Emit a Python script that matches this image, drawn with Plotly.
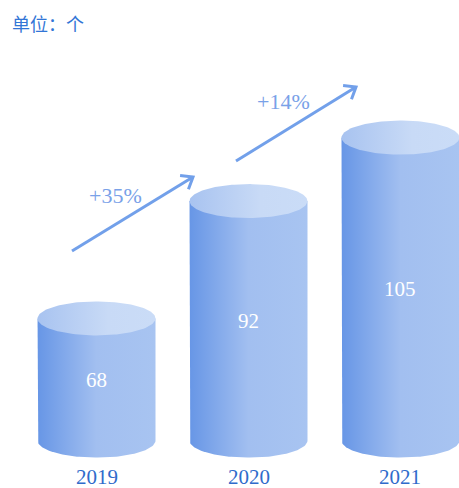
import numpy as np
import plotly.graph_objects as go

# ---- data ----
categories = ["2019", "2020", "2021"]
values = [68, 92, 105]
growth_labels = ["+35%", "+14%"]
base_value = 43          # where the cylinders stand (axis does not start at 0)
unit_label = "单位：个"

# ---- layout constants ----
W, H = 459, 488
X_RANGE = [-0.635, 2.385]
Y_RANGE = [33.3, 133.15]
HALF_W = 0.388
RY_PX = 17
px_per_y = H / (Y_RANGE[1] - Y_RANGE[0])
RY = RY_PX / px_per_y

SERIF = "Liberation Serif, Times New Roman, serif"
body_scale = [[0, "#6796e6"], [0.5, "#a2bff0"], [1, "#a8c4f1"]]
top_scale = [[0, "#a8c3f0"], [0.6, "#c8daf6"], [1, "#cadcf7"]]
arrow_color = "#72a0ea"
growth_color = "#79a1e8"
year_color = "#2f6bcb"


def to_x(px):
    return X_RANGE[0] + px / W * (X_RANGE[1] - X_RANGE[0])


def to_y(py):
    return Y_RANGE[1] - py / H * (Y_RANGE[1] - Y_RANGE[0])


fig = go.Figure()
t = np.linspace(0, np.pi, 80)
t2 = np.linspace(0, 2 * np.pi, 160)

for i, v in enumerate(values):
    cx = i
    xs = [cx - HALF_W] + list(cx - HALF_W * np.cos(t)) + [cx + HALF_W, cx - HALF_W]
    ys = [v] + list(base_value - RY * np.sin(t)) + [v, v]
    fig.add_trace(go.Scatter(
        x=xs, y=ys, mode="lines", fill="toself",
        line=dict(width=0, color="rgba(0,0,0,0)"),
        fillgradient=dict(type="horizontal", colorscale=body_scale),
        hoverinfo="skip", showlegend=False))
    fig.add_trace(go.Scatter(
        x=list(cx + HALF_W * np.cos(t2)), y=list(v + RY * np.sin(t2)),
        mode="lines", fill="toself",
        line=dict(width=0, color="rgba(0,0,0,0)"),
        fillgradient=dict(type="horizontal", colorscale=top_scale),
        hoverinfo="skip", showlegend=False))

annotations = []
for i, (c, v) in enumerate(zip(categories, values)):
    annotations.append(dict(
        x=i, y=(v + base_value) / 2, xref="x", yref="y", text=str(v),
        showarrow=False, font=dict(family=SERIF, size=21, color="white")))
    annotations.append(dict(
        x=i, y=1 - 477 / H, xref="x", yref="paper", text=c, yanchor="middle",
        showarrow=False, font=dict(family=SERIF, size=21, color=year_color)))

# growth arrows (pixel positions of tail / tip and label)
arrow_tails = [(72, 251), (236, 161)]
arrow_tips = [(193, 177), (356, 87)]
label_pos = [(115, 195), (283, 101)]
for (tx, ty), (hx, hy), (lx, ly), lab in zip(arrow_tails, arrow_tips, label_pos, growth_labels):
    dx, dy = tx - hx, ty - hy
    L = np.hypot(dx, dy)
    ux, uy = dx / L, dy / L
    arm = 13
    pts = []
    for ang in (np.radians(38), -np.radians(38)):
        ax = ux * np.cos(ang) - uy * np.sin(ang)
        ay = ux * np.sin(ang) + uy * np.cos(ang)
        pts.append((hx + arm * ax, hy + arm * ay))
    xs = [tx, hx, None, pts[0][0], hx, pts[1][0]]
    ys = [ty, hy, None, pts[0][1], hy, pts[1][1]]
    fig.add_trace(go.Scatter(
        x=[to_x(p) if p is not None else None for p in xs],
        y=[to_y(p) if p is not None else None for p in ys],
        mode="lines", line=dict(color=arrow_color, width=3),
        hoverinfo="skip", showlegend=False))
    annotations.append(dict(
        x=to_x(lx), y=to_y(ly), xref="x", yref="y", text=lab, showarrow=False,
        font=dict(family=SERIF, size=22, color=growth_color)))

annotations.append(dict(
    x=10 / W, y=1 - 23 / H, xref="paper", yref="paper", xanchor="left", yanchor="middle",
    text=unit_label, showarrow=False,
    font=dict(family="Noto Sans CJK SC, sans-serif", size=18, color="#3275d6")))

fig.update_layout(
    width=W, height=H,
    margin=dict(l=0, r=0, t=0, b=0),
    paper_bgcolor="white", plot_bgcolor="white",
    xaxis=dict(range=X_RANGE, visible=False, fixedrange=True),
    yaxis=dict(range=Y_RANGE, visible=False, fixedrange=True),
    annotations=annotations,
    showlegend=False,
)

fig.write_html("out.html", config={"displayModeBar": False},
               post_script="document.body.style.margin='0';document.body.style.overflow='hidden';")
